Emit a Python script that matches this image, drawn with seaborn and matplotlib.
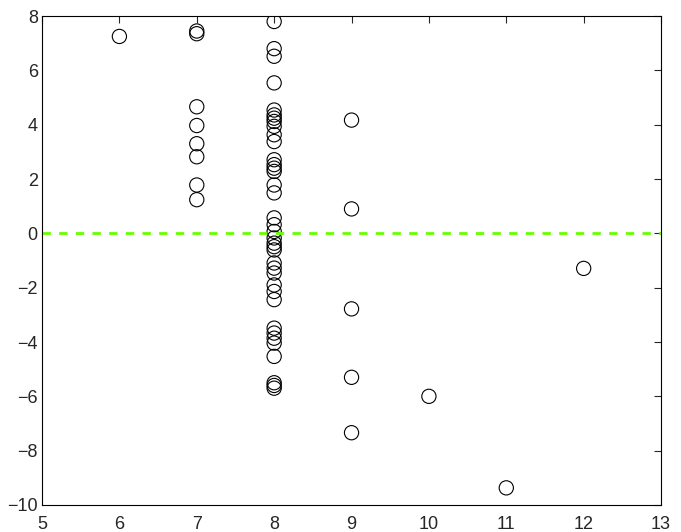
import matplotlib
matplotlib.use("Agg")
import matplotlib.pyplot as plt
import seaborn as sns
import pandas as pd

# valeurs
x6 = [6]
y6 = [7.25]
x7 = [7] * 8
y7 = [7.45, 7.35, 4.66, 3.97, 3.3, 2.82, 1.78, 1.24]
y8 = [7.8, 6.8, 6.52, 5.54,
      4.54, 4.36, 4.24, 4.12, 3.94, 3.63, 3.38,
      2.71, 2.53, 2.4, 2.28, 1.78, 1.49,
      0.57, 0.32, 0.07, -0.17, -0.36, -0.49, -0.61,
      -1.09, -1.28, -1.46, -1.9, -2.14, -2.44,
      -3.49, -3.67, -3.86, -4.04, -4.53,
      -5.5, -5.6, -5.7]
x8 = [8] * len(y8)
x9 = [9] * 5
y9 = [4.17, 0.9, -2.78, -5.3, -7.34]
x_rest = [10, 11, 12]
y_rest = [-6.0, -9.37, -1.29]

df = pd.DataFrame({
    "x": x6 + x7 + x8 + x9 + x_rest,
    "y": y6 + y7 + y8 + y9 + y_rest,
})

sns.set_style("white")
plt.rcParams['font.family'] = ['Liberation Sans', 'DejaVu Sans']
plt.rcParams['font.size'] = 13
plt.rcParams['xtick.labelsize'] = 13
plt.rcParams['ytick.labelsize'] = 13

fig = plt.figure(figsize=(6.81, 5.32), dpi=100)
ax = fig.add_axes([0.0617, 0.0508, 0.909, 0.919])

sns.scatterplot(data=df, x="x", y="y", ax=ax, marker="o", s=105,
                facecolors="none", edgecolor="black", linewidth=0.8)
ax.axhline(0, color="#66ff00", linestyle="--", linewidth=2, dashes=(3, 3))

ax.set_xlim(5, 13)
ax.set_ylim(-10, 8)
ax.set_xticks(range(5, 14))
ax.set_yticks(range(-10, 9, 2))
ax.set_xlabel("")
ax.set_ylabel("")
ax.tick_params(direction="in", length=5, top=True, right=True,
               width=0.8, labelsize=13)
ax.tick_params(axis="x", pad=8)
ax.tick_params(axis="y", pad=3)
for s in ax.spines.values():
    s.set_color("black")
    s.set_linewidth(0.8)

fig.savefig("out.png", dpi=100)
